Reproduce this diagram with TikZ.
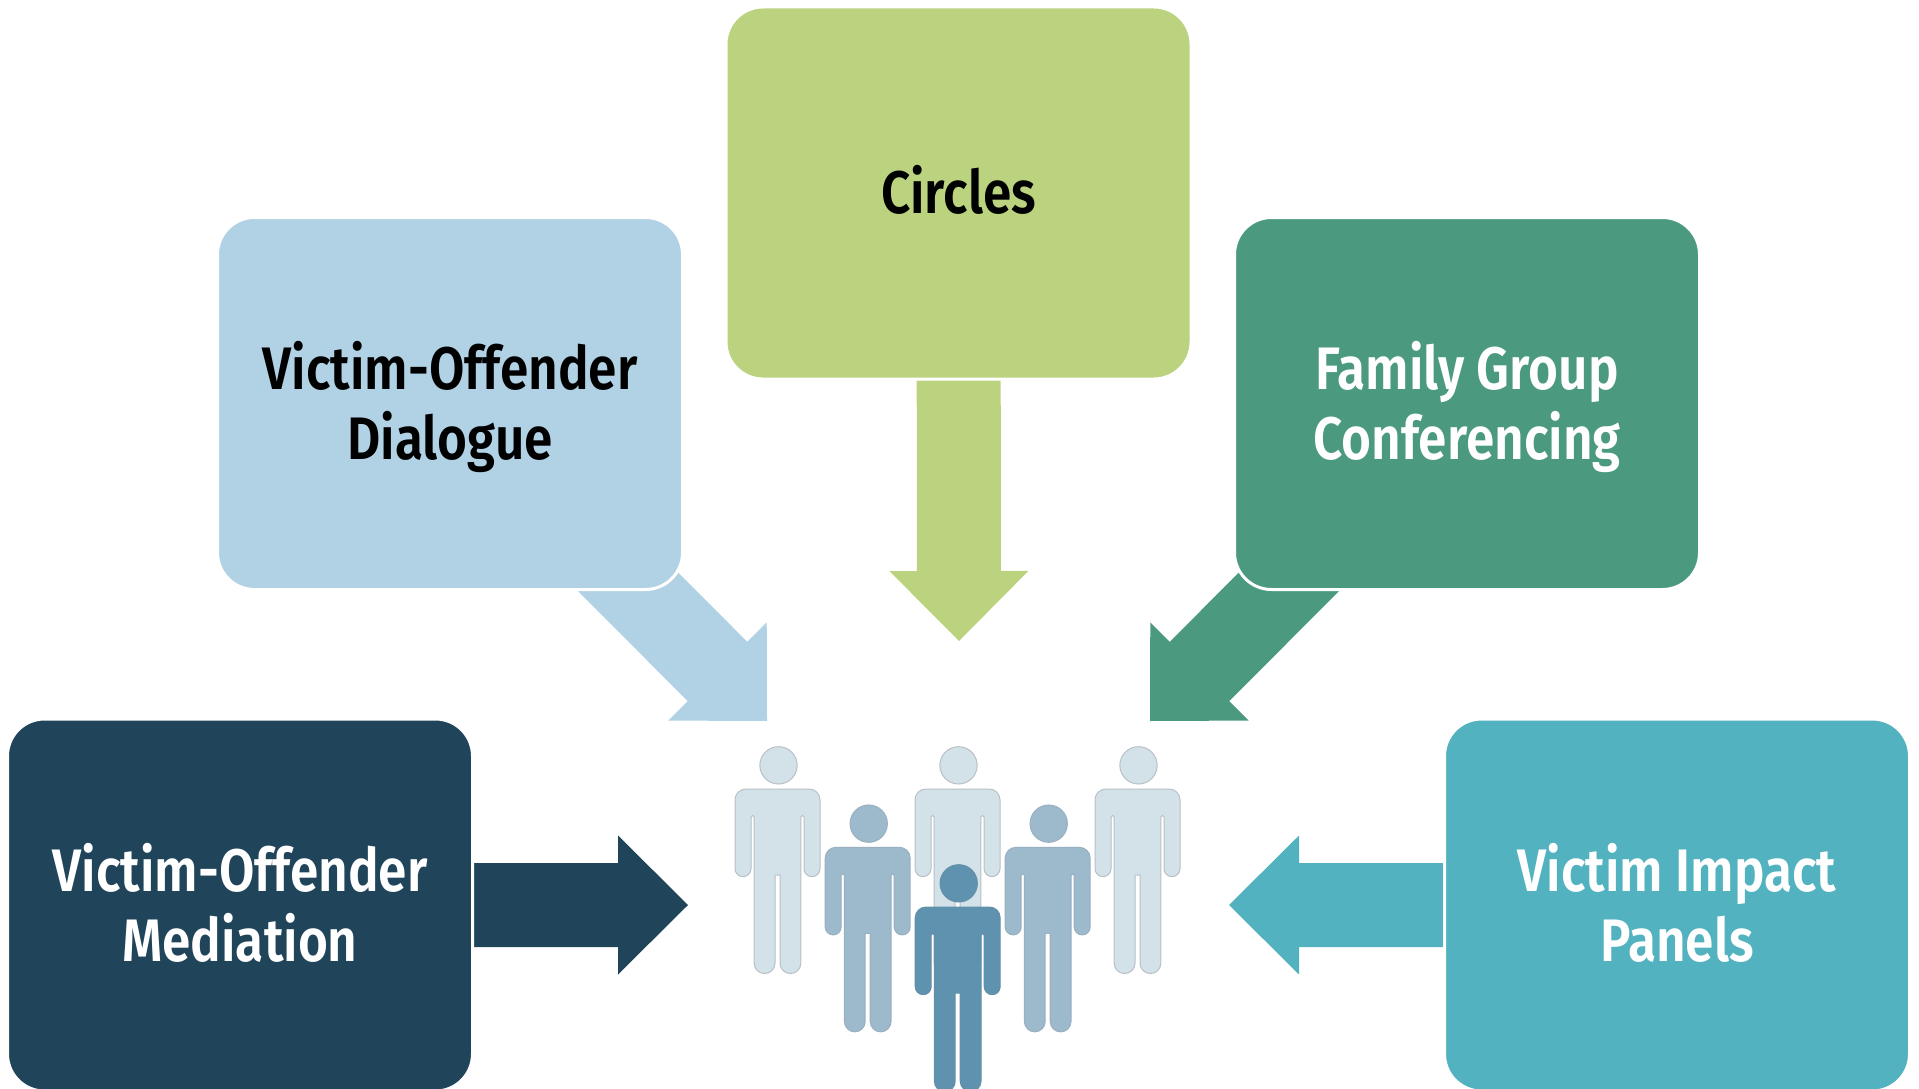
\documentclass[tikz,border=0pt]{standalone}
\usepackage{fontspec}
\setmainfont[FakeStretch=0.855]{Fira Sans SemiBold}
\usetikzlibrary{backgrounds,calc}
\definecolor{cNavy}{HTML}{20445A}
\definecolor{cBlue}{HTML}{B1D1E4}
\definecolor{cLime}{HTML}{BBD37F}
\definecolor{cGreen}{HTML}{4B9A80}
\definecolor{cTeal}{HTML}{52B2BF}
\definecolor{cBack}{HTML}{D3E1E9}
\definecolor{cMid}{HTML}{9DB9CC}
\definecolor{cFront}{HTML}{5F92AE}
\definecolor{cEdge}{HTML}{B8C0C5}
\newcommand{\blockarr}[3]{%
  \coordinate (baseS) at ($(#2)!70pt!(#1)$);
  \fill[#3] (#2)
    -- ($(baseS)!69.5pt!90:(#2)$) -- ($(baseS)!42pt!90:(#2)$)
    -- ($(#1)!42pt!90:(#2)$) -- ($(#1)!42pt!-90:(#2)$)
    -- ($(baseS)!42pt!-90:(#2)$) -- ($(baseS)!69.5pt!-90:(#2)$) -- cycle;
}
\tikzset{
  box/.style={draw=white,line width=3pt,rounded corners=37pt,minimum width=465pt,minimum height=372pt,
    inner sep=0pt,outer sep=0pt},
  boxtext/.style={inner sep=0pt,align=center,font=\fontsize{60pt}{70pt}\selectfont},
  person/.pic={
    \path[x=0.3333pt,y=0.3333pt,line width=1pt,pic actions]
      (0,0) -- (95,0) arc[start angle=90,end angle=0,radius=32.5]
      -- (127.5,-239) arc[start angle=0,end angle=-180,radius=24]
      -- (79.5,-84) arc[start angle=0,end angle=180,radius=4.75]
      -- (70,-522.5) arc[start angle=0,end angle=-180,radius=31.25]
      -- (7.5,-258) -- (-7.5,-258)
      -- (-7.5,-522.5) arc[start angle=0,end angle=-180,radius=31.25]
      -- (-70,-84) arc[start angle=0,end angle=180,radius=4.75]
      -- (-79.5,-239) arc[start angle=0,end angle=-180,radius=24]
      -- (-127.5,-32.5) arc[start angle=180,end angle=90,radius=32.5]
      -- cycle;
    \path[x=0.3333pt,y=0.3333pt,line width=1pt,pic actions] (3,71) circle[radius=56];
  }
}
\begin{document}
\begin{tikzpicture}[x=1pt,y=-1pt]
\path[use as bounding box,clip] (0,0) rectangle (1919,1089);
\node[box,fill=cLime] (circles) at (958.5,193) {};
\node[box,fill=cBlue] (vod) at (450,403.5) {};
\node[box,fill=cGreen] (fgc) at (1467,403.5) {};
\node[box,fill=cNavy] (vom) at (240,905) {};
\node[box,fill=cTeal] (vip) at (1677,905) {};
\node[boxtext,text=black] (circlesT) at ($(circles.center)+(0,-3.6)$) {Circles};
\node[boxtext,text=black] (vodT) at ($(vod.center)+(0,3.6)$) {Victim-Offender\\Dialogue};
\node[boxtext,text=white] (fgcT) at ($(fgc.center)+(0,3.6)$) {Family Group\\Conferencing};
\node[boxtext,text=white] (vomT) at ($(vom.center)+(0,-2.4)$) {Victim-Offender\\Mediation};
\node[boxtext,text=white] (vipT) at ($(vip.center)+(0,-2.4)$) {Victim Impact\\Panels};
\coordinate (tipT) at (959,641);
\coordinate (tipBL) at (767,721);
\coordinate (tipBR) at (1150,721);
\coordinate (tipL) at (688,905);
\coordinate (tipR) at (1229,905);
\begin{scope}[on background layer]
\blockarr{circles.center}{tipT}{cLime}
\blockarr{vod.center}{tipBL}{cBlue}
\blockarr{fgc.center}{tipBR}{cGreen}
\blockarr{vom.center}{tipL}{cNavy}
\blockarr{vip.center}{tipR}{cTeal}
\end{scope}
\pic[fill=cBack,draw=cEdge] (p1) at (777.5,789) {person};
\pic[fill=cBack,draw=cEdge] (p2) at (957.5,789) {person};
\pic[fill=cBack,draw=cEdge] (p3) at (1137.5,789) {person};
\pic[fill=cMid,draw=cMid!85!gray] (p4) at (867.7,847.3) {person};
\pic[fill=cMid,draw=cMid!85!gray] (p5) at (1047.7,847.3) {person};
\pic[fill=cFront,draw=cFront!90!gray] (p6) at (957.7,907) {person};
\end{tikzpicture}
\end{document}
